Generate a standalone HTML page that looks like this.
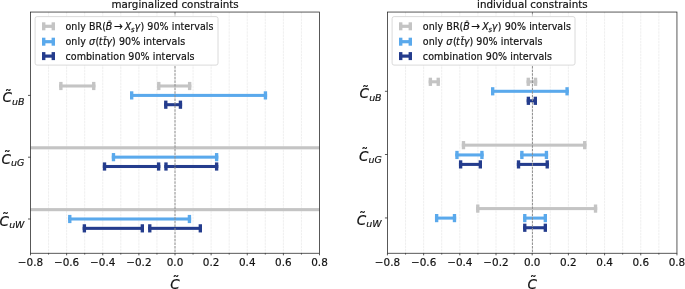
<!DOCTYPE html>
<html lang="en"><head><meta charset="utf-8"><title>constraints</title>
<style>html,body{margin:0;padding:0;background:#fff}svg{display:block}text{stroke:#111;stroke-width:.18px}</style></head><body>
<svg width="685" height="289" viewBox="0 0 685 289" font-family='"DejaVu Sans", "Liberation Sans", sans-serif' fill="#111">
<rect width="685" height="289" fill="#fff"/>
<path d="M48.56 12.05V253.25M66.62 12.05V253.25M84.69 12.05V253.25M102.75 12.05V253.25M120.81 12.05V253.25M138.88 12.05V253.25M156.94 12.05V253.25M175.00 12.05V253.25M193.06 12.05V253.25M211.12 12.05V253.25M229.19 12.05V253.25M247.25 12.05V253.25M265.31 12.05V253.25M283.38 12.05V253.25M301.44 12.05V253.25" stroke="#e8e8e8" stroke-width="0.7" stroke-dasharray="2.5 0.7" fill="none"/>
<rect x="59.20" y="84.47" width="36.20" height="3.05" fill="#c4c4c4"/><rect x="59.20" y="81.90" width="3.35" height="8.20" fill="#c4c4c4"/><rect x="92.05" y="81.90" width="3.35" height="8.20" fill="#c4c4c4"/>
<rect x="157.10" y="84.47" width="34.20" height="3.05" fill="#c4c4c4"/><rect x="157.10" y="81.90" width="3.35" height="8.20" fill="#c4c4c4"/><rect x="187.95" y="81.90" width="3.35" height="8.20" fill="#c4c4c4"/>
<rect x="130.00" y="93.88" width="137.10" height="3.05" fill="#5aa9ec"/><rect x="130.00" y="91.30" width="3.35" height="8.20" fill="#5aa9ec"/><rect x="263.75" y="91.30" width="3.35" height="8.20" fill="#5aa9ec"/>
<rect x="164.10" y="103.17" width="18.00" height="3.05" fill="#243c8d"/><rect x="164.10" y="100.60" width="3.35" height="8.20" fill="#243c8d"/><rect x="178.75" y="100.60" width="3.35" height="8.20" fill="#243c8d"/>
<rect x="30.50" y="146.25" width="289.00" height="3.10" fill="#c4c4c4"/>
<rect x="111.80" y="155.62" width="106.50" height="3.05" fill="#5aa9ec"/><rect x="111.80" y="153.05" width="3.35" height="8.20" fill="#5aa9ec"/><rect x="214.95" y="153.05" width="3.35" height="8.20" fill="#5aa9ec"/>
<rect x="102.85" y="164.97" width="57.45" height="3.05" fill="#243c8d"/><rect x="102.85" y="162.40" width="3.35" height="8.20" fill="#243c8d"/><rect x="156.95" y="162.40" width="3.35" height="8.20" fill="#243c8d"/>
<rect x="164.30" y="164.97" width="54.00" height="3.05" fill="#243c8d"/><rect x="164.30" y="162.40" width="3.35" height="8.20" fill="#243c8d"/><rect x="214.95" y="162.40" width="3.35" height="8.20" fill="#243c8d"/>
<rect x="30.50" y="208.10" width="289.00" height="3.10" fill="#c4c4c4"/>
<rect x="68.10" y="217.47" width="123.00" height="3.05" fill="#5aa9ec"/><rect x="68.10" y="214.90" width="3.35" height="8.20" fill="#5aa9ec"/><rect x="187.75" y="214.90" width="3.35" height="8.20" fill="#5aa9ec"/>
<rect x="82.70" y="226.82" width="61.30" height="3.05" fill="#243c8d"/><rect x="82.70" y="224.25" width="3.35" height="8.20" fill="#243c8d"/><rect x="140.65" y="224.25" width="3.35" height="8.20" fill="#243c8d"/>
<rect x="148.10" y="226.82" width="53.90" height="3.05" fill="#243c8d"/><rect x="148.10" y="224.25" width="3.35" height="8.20" fill="#243c8d"/><rect x="198.65" y="224.25" width="3.35" height="8.20" fill="#243c8d"/>
<path d="M175.00 12.05V253.25" stroke="#8e8e8e" stroke-width="1" stroke-dasharray="2.5 1.1" fill="none"/>
<rect x="30.50" y="12.05" width="289.00" height="241.20" fill="none" stroke="#222" stroke-width="0.75"/>
<path d="M30.50 253.25v2.1M48.56 253.25v1.3M66.62 253.25v2.1M84.69 253.25v1.3M102.75 253.25v2.1M120.81 253.25v1.3M138.88 253.25v2.1M156.94 253.25v1.3M175.00 253.25v2.1M193.06 253.25v1.3M211.12 253.25v2.1M229.19 253.25v1.3M247.25 253.25v2.1M265.31 253.25v1.3M283.38 253.25v2.1M301.44 253.25v1.3M319.50 253.25v2.1M30.50 95.40h-2.5M30.50 157.20h-2.5M30.50 219.00h-2.5" stroke="#222" stroke-width="0.75" fill="none"/>
<text x="30.50" y="265.9" font-size="10.42" text-anchor="middle">−0.8</text>
<text x="66.62" y="265.9" font-size="10.42" text-anchor="middle">−0.6</text>
<text x="102.75" y="265.9" font-size="10.42" text-anchor="middle">−0.4</text>
<text x="138.88" y="265.9" font-size="10.42" text-anchor="middle">−0.2</text>
<text x="175.00" y="265.9" font-size="10.42" text-anchor="middle">0.0</text>
<text x="211.12" y="265.9" font-size="10.42" text-anchor="middle">0.2</text>
<text x="247.25" y="265.9" font-size="10.42" text-anchor="middle">0.4</text>
<text x="283.38" y="265.9" font-size="10.42" text-anchor="middle">0.6</text>
<text x="319.50" y="265.9" font-size="10.42" text-anchor="middle">0.8</text>
<text x="175.10" y="7.7" font-size="10.32" text-anchor="middle">marginalized constraints</text>
<text x="170.20" y="288.85" font-size="13.5" font-style="oblique">C</text><text x="172.50" y="286.10" font-size="14">˜</text>
<text x="2.40" y="102.40" font-size="13.5" font-style="oblique">C<tspan dx="0.1" dy="2.3" font-size="9.45">uB</tspan></text><text x="4.70" y="99.65" font-size="14">˜</text>
<text x="1.50" y="163.70" font-size="13.5" font-style="oblique">C<tspan dx="0.1" dy="2.3" font-size="9.45">uG</tspan></text><text x="3.80" y="160.95" font-size="14">˜</text>
<text x="-0.40" y="225.60" font-size="13.5" font-style="oblique">C<tspan dx="0.1" dy="2.3" font-size="9.45">uW</tspan></text><text x="1.90" y="222.85" font-size="14">˜</text>
<rect x="35.10" y="16.60" width="182.90" height="48.50" rx="2" ry="2" fill="#fff" fill-opacity="1" stroke="#d6d6d6" stroke-width="0.9"/>
<rect x="42.00" y="24.70" width="13.00" height="3.20" fill="#c4c4c4"/><rect x="42.00" y="22.30" width="3.40" height="8.00" fill="#c4c4c4"/><rect x="51.60" y="22.30" width="3.40" height="8.00" fill="#c4c4c4"/>
<rect x="42.00" y="40.10" width="13.00" height="3.20" fill="#5aa9ec"/><rect x="42.00" y="37.70" width="3.40" height="8.00" fill="#5aa9ec"/><rect x="51.60" y="37.70" width="3.40" height="8.00" fill="#5aa9ec"/>
<rect x="42.00" y="54.50" width="13.00" height="3.20" fill="#243c8d"/><rect x="42.00" y="52.10" width="3.40" height="8.00" fill="#243c8d"/><rect x="51.60" y="52.10" width="3.40" height="8.00" fill="#243c8d"/>
<text transform="translate(0,29.85) scale(1,1.1)" y="0" font-size="9.55" letter-spacing="0.06"><tspan x="65.45">only BR(</tspan><tspan x="105.75" font-style="oblique" font-size="9.50">B</tspan><tspan x="113.90" font-size="10.50">→</tspan><tspan x="124.80" font-style="oblique" font-size="9.40">X</tspan><tspan x="131.10" font-style="oblique" dy="1.5" font-size="6.69">s</tspan><tspan x="134.40" font-style="oblique" dy="-1.5" font-size="9.50">γ</tspan><tspan x="140.45" font-size="9.55">) 90% intervals</tspan></text>
<rect x="108.40" y="20.2" width="2.5" height="1.7" fill="#9a9a9a"/>
<text transform="translate(0,44.85) scale(1,1.1)" y="0" font-size="9.55" letter-spacing="0.06"><tspan x="65.45">only </tspan><tspan x="88.90" font-style="oblique">σ</tspan><tspan x="95.60">(</tspan><tspan x="98.70" font-style="oblique">t</tspan><tspan x="103.00" font-style="oblique">t</tspan><tspan x="106.30" font-style="oblique">γ</tspan><tspan x="112.05">) 90% intervals</tspan></text>
<rect x="103.90" y="36.2" width="2.8" height="0.9" fill="#555"/>
<text transform="translate(0,59.75) scale(1,1.1)" x="65.45" y="0" font-size="9.55" letter-spacing="0.06">combination 90% intervals</text>
<path d="M405.54 12.05V253.25M423.64 12.05V253.25M441.73 12.05V253.25M459.82 12.05V253.25M477.92 12.05V253.25M496.01 12.05V253.25M514.11 12.05V253.25M532.20 12.05V253.25M550.29 12.05V253.25M568.39 12.05V253.25M586.48 12.05V253.25M604.58 12.05V253.25M622.67 12.05V253.25M640.76 12.05V253.25M658.86 12.05V253.25" stroke="#e8e8e8" stroke-width="0.7" stroke-dasharray="2.5 0.7" fill="none"/>
<rect x="428.70" y="80.27" width="11.20" height="3.05" fill="#c4c4c4"/><rect x="428.70" y="77.70" width="3.35" height="8.20" fill="#c4c4c4"/><rect x="436.55" y="77.70" width="3.35" height="8.20" fill="#c4c4c4"/>
<rect x="526.60" y="80.27" width="10.60" height="3.05" fill="#c4c4c4"/><rect x="526.60" y="77.70" width="3.35" height="8.20" fill="#c4c4c4"/><rect x="533.85" y="77.70" width="3.35" height="8.20" fill="#c4c4c4"/>
<rect x="491.00" y="89.77" width="77.75" height="3.05" fill="#5aa9ec"/><rect x="491.00" y="87.20" width="3.35" height="8.20" fill="#5aa9ec"/><rect x="565.40" y="87.20" width="3.35" height="8.20" fill="#5aa9ec"/>
<rect x="526.70" y="99.27" width="10.30" height="3.05" fill="#243c8d"/><rect x="526.70" y="96.70" width="3.35" height="8.20" fill="#243c8d"/><rect x="533.65" y="96.70" width="3.35" height="8.20" fill="#243c8d"/>
<rect x="461.80" y="143.62" width="124.60" height="3.05" fill="#c4c4c4"/><rect x="461.80" y="141.05" width="3.35" height="8.20" fill="#c4c4c4"/><rect x="583.05" y="141.05" width="3.35" height="8.20" fill="#c4c4c4"/>
<rect x="455.30" y="153.42" width="28.30" height="3.05" fill="#5aa9ec"/><rect x="455.30" y="150.85" width="3.35" height="8.20" fill="#5aa9ec"/><rect x="480.25" y="150.85" width="3.35" height="8.20" fill="#5aa9ec"/>
<rect x="520.20" y="153.42" width="27.90" height="3.05" fill="#5aa9ec"/><rect x="520.20" y="150.85" width="3.35" height="8.20" fill="#5aa9ec"/><rect x="544.75" y="150.85" width="3.35" height="8.20" fill="#5aa9ec"/>
<rect x="458.95" y="162.88" width="23.05" height="3.05" fill="#243c8d"/><rect x="458.95" y="160.30" width="3.35" height="8.20" fill="#243c8d"/><rect x="478.65" y="160.30" width="3.35" height="8.20" fill="#243c8d"/>
<rect x="516.85" y="162.88" width="32.05" height="3.05" fill="#243c8d"/><rect x="516.85" y="160.30" width="3.35" height="8.20" fill="#243c8d"/><rect x="545.55" y="160.30" width="3.35" height="8.20" fill="#243c8d"/>
<rect x="476.10" y="207.07" width="121.10" height="3.05" fill="#c4c4c4"/><rect x="476.10" y="204.50" width="3.35" height="8.20" fill="#c4c4c4"/><rect x="593.85" y="204.50" width="3.35" height="8.20" fill="#c4c4c4"/>
<rect x="434.97" y="216.57" width="21.18" height="3.05" fill="#5aa9ec"/><rect x="434.97" y="214.00" width="3.35" height="8.20" fill="#5aa9ec"/><rect x="452.80" y="214.00" width="3.35" height="8.20" fill="#5aa9ec"/>
<rect x="523.10" y="216.57" width="23.90" height="3.05" fill="#5aa9ec"/><rect x="523.10" y="214.00" width="3.35" height="8.20" fill="#5aa9ec"/><rect x="543.65" y="214.00" width="3.35" height="8.20" fill="#5aa9ec"/>
<rect x="523.10" y="226.22" width="23.90" height="3.05" fill="#243c8d"/><rect x="523.10" y="223.65" width="3.35" height="8.20" fill="#243c8d"/><rect x="543.65" y="223.65" width="3.35" height="8.20" fill="#243c8d"/>
<path d="M532.45 12.05V253.25" stroke="#8e8e8e" stroke-width="1" stroke-dasharray="2.5 1.1" fill="none"/>
<rect x="387.45" y="12.05" width="289.50" height="241.20" fill="none" stroke="#222" stroke-width="0.75"/>
<path d="M387.45 253.25v2.1M405.54 253.25v1.3M423.64 253.25v2.1M441.73 253.25v1.3M459.82 253.25v2.1M477.92 253.25v1.3M496.01 253.25v2.1M514.11 253.25v1.3M532.20 253.25v2.1M550.29 253.25v1.3M568.39 253.25v2.1M586.48 253.25v1.3M604.58 253.25v2.1M622.67 253.25v1.3M640.76 253.25v2.1M658.86 253.25v1.3M676.95 253.25v2.1M387.45 91.30h-2.5M387.45 154.50h-2.5M387.45 217.95h-2.5" stroke="#222" stroke-width="0.75" fill="none"/>
<text x="387.45" y="265.9" font-size="10.42" text-anchor="middle">−0.8</text>
<text x="423.64" y="265.9" font-size="10.42" text-anchor="middle">−0.6</text>
<text x="459.82" y="265.9" font-size="10.42" text-anchor="middle">−0.4</text>
<text x="496.01" y="265.9" font-size="10.42" text-anchor="middle">−0.2</text>
<text x="532.20" y="265.9" font-size="10.42" text-anchor="middle">0.0</text>
<text x="568.39" y="265.9" font-size="10.42" text-anchor="middle">0.2</text>
<text x="604.58" y="265.9" font-size="10.42" text-anchor="middle">0.4</text>
<text x="640.76" y="265.9" font-size="10.42" text-anchor="middle">0.6</text>
<text x="676.95" y="265.9" font-size="10.42" text-anchor="middle">0.8</text>
<text x="532.35" y="7.7" font-size="10.32" text-anchor="middle">individual constraints</text>
<text x="527.40" y="288.85" font-size="13.5" font-style="oblique">C</text><text x="529.70" y="286.10" font-size="14">˜</text>
<text x="359.60" y="98.40" font-size="13.5" font-style="oblique">C<tspan dx="0.1" dy="2.3" font-size="9.45">uB</tspan></text><text x="361.90" y="95.65" font-size="14">˜</text>
<text x="359.05" y="161.05" font-size="13.5" font-style="oblique">C<tspan dx="0.1" dy="2.3" font-size="9.45">uG</tspan></text><text x="361.35" y="158.30" font-size="14">˜</text>
<text x="356.80" y="224.50" font-size="13.5" font-style="oblique">C<tspan dx="0.1" dy="2.3" font-size="9.45">uW</tspan></text><text x="359.10" y="221.75" font-size="14">˜</text>
<rect x="392.10" y="16.60" width="182.90" height="48.50" rx="2" ry="2" fill="#fff" fill-opacity="1" stroke="#d6d6d6" stroke-width="0.9"/>
<rect x="399.00" y="24.70" width="13.00" height="3.20" fill="#c4c4c4"/><rect x="399.00" y="22.30" width="3.40" height="8.00" fill="#c4c4c4"/><rect x="408.60" y="22.30" width="3.40" height="8.00" fill="#c4c4c4"/>
<rect x="399.00" y="40.10" width="13.00" height="3.20" fill="#5aa9ec"/><rect x="399.00" y="37.70" width="3.40" height="8.00" fill="#5aa9ec"/><rect x="408.60" y="37.70" width="3.40" height="8.00" fill="#5aa9ec"/>
<rect x="399.00" y="54.50" width="13.00" height="3.20" fill="#243c8d"/><rect x="399.00" y="52.10" width="3.40" height="8.00" fill="#243c8d"/><rect x="408.60" y="52.10" width="3.40" height="8.00" fill="#243c8d"/>
<text transform="translate(0,29.85) scale(1,1.1)" y="0" font-size="9.55" letter-spacing="0.06"><tspan x="422.85">only BR(</tspan><tspan x="463.15" font-style="oblique" font-size="9.50">B</tspan><tspan x="471.30" font-size="10.50">→</tspan><tspan x="482.20" font-style="oblique" font-size="9.40">X</tspan><tspan x="488.50" font-style="oblique" dy="1.5" font-size="6.69">s</tspan><tspan x="491.80" font-style="oblique" dy="-1.5" font-size="9.50">γ</tspan><tspan x="497.85" font-size="9.55">) 90% intervals</tspan></text>
<rect x="465.80" y="20.2" width="2.5" height="1.7" fill="#9a9a9a"/>
<text transform="translate(0,44.85) scale(1,1.1)" y="0" font-size="9.55" letter-spacing="0.06"><tspan x="422.85">only </tspan><tspan x="446.30" font-style="oblique">σ</tspan><tspan x="453.00">(</tspan><tspan x="456.10" font-style="oblique">t</tspan><tspan x="460.40" font-style="oblique">t</tspan><tspan x="463.70" font-style="oblique">γ</tspan><tspan x="469.45">) 90% intervals</tspan></text>
<rect x="461.30" y="36.2" width="2.8" height="0.9" fill="#555"/>
<text transform="translate(0,59.75) scale(1,1.1)" x="422.85" y="0" font-size="9.55" letter-spacing="0.06">combination 90% intervals</text>
</svg></body></html>
